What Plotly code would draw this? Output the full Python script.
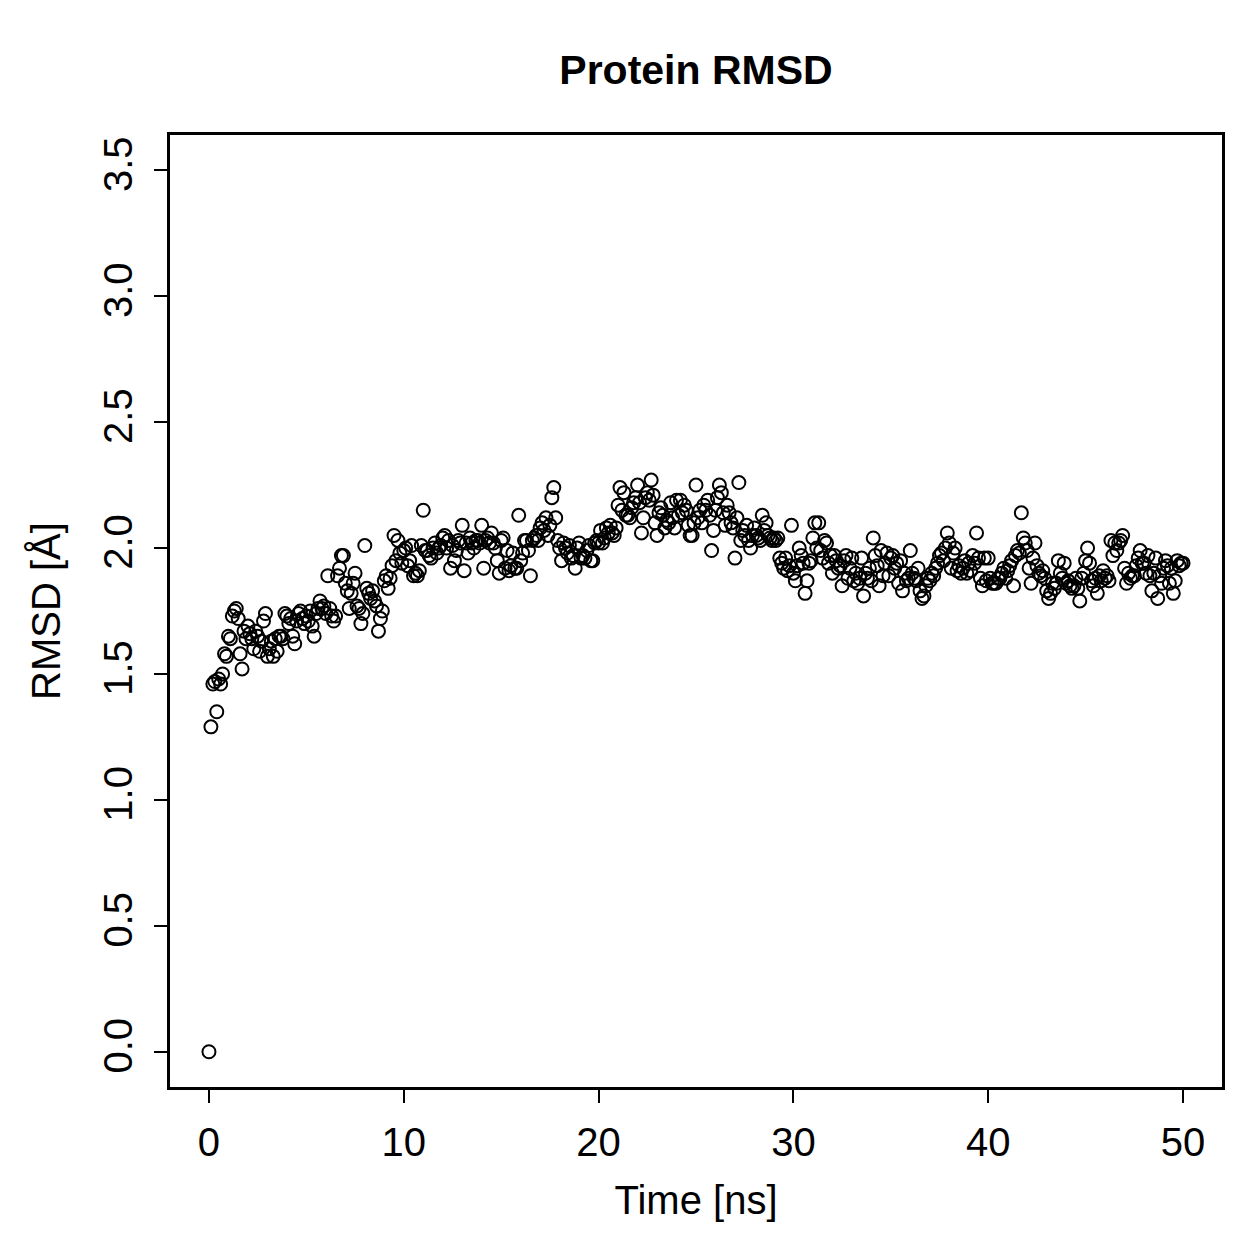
import numpy as np
import plotly.graph_objects as go

# RMSD values, 0.1 ns apart (0..50 ns)
rmsd_0_10 = [
    0.00, 1.29, 1.46, 1.47, 1.35, 1.48, 1.46, 1.50, 1.58, 1.57,
    1.65, 1.64, 1.73, 1.75, 1.76, 1.72, 1.58, 1.52, 1.67, 1.64,
    1.69, 1.66, 1.64, 1.60, 1.67, 1.65, 1.59, 1.63, 1.71, 1.74,
    1.57, 1.60, 1.63, 1.57, 1.64, 1.59, 1.65, 1.65, 1.64, 1.74,
    1.73, 1.70, 1.72, 1.65, 1.62, 1.71, 1.74, 1.75, 1.72, 1.70,
    1.73, 1.71, 1.75, 1.69, 1.65, 1.74, 1.76, 1.79, 1.76, 1.77,
    1.74, 1.89, 1.76, 1.73, 1.71, 1.73, 1.89, 1.92, 1.97, 1.97,
    1.86, 1.83, 1.76, 1.82, 1.86, 1.90, 1.77, 1.76, 1.70, 1.74,
    2.01, 1.84, 1.82, 1.80, 1.83, 1.79, 1.77, 1.67, 1.72, 1.75,
    1.87, 1.89, 1.84, 1.88, 1.93, 2.05, 1.95, 2.03, 1.98, 1.94,
]
rmsd_10_20 = [
    1.99, 2.00, 1.93, 1.95, 2.01, 1.89, 1.90, 1.89, 1.91, 2.01,
    2.15, 1.99, 1.99, 1.97, 1.96, 2.00, 2.02, 1.98, 2.00, 2.01,
    2.04, 2.05, 2.00, 2.03, 1.92, 2.01, 1.95, 1.99, 2.03, 2.02,
    2.09, 1.91, 2.02, 1.98, 2.04, 2.02, 2.00, 2.03, 2.03, 2.02,
    2.09, 1.92, 2.03, 2.04, 2.02, 2.06, 2.02, 2.00, 1.95, 1.90,
    2.03, 2.04, 1.92, 1.99, 1.91, 1.93, 1.98, 1.92, 1.92, 2.13,
    1.95, 1.98, 2.03, 2.03, 1.99, 1.89, 2.03, 2.04, 2.05, 2.03,
    2.08, 2.10, 2.07, 2.12, 2.05, 2.09, 2.20, 2.24, 2.12, 2.03,
    2.00, 1.95, 2.02, 2.00, 1.98, 2.01, 1.96, 1.97, 1.92, 2.00,
    2.02, 1.96, 1.97, 1.96, 1.99, 2.01, 1.95, 1.95, 2.02, 2.03,
]
rmsd_20_30 = [
    2.02, 2.07, 2.02, 2.04, 2.08, 2.06, 2.09, 2.06, 2.05, 2.08,
    2.17, 2.24, 2.15, 2.22, 2.13, 2.13, 2.12, 2.16, 2.18, 2.20,
    2.25, 2.18, 2.06, 2.12, 2.20, 2.22, 2.19, 2.27, 2.21, 2.10,
    2.05, 2.14, 2.16, 2.13, 2.08, 2.11, 2.10, 2.18, 2.12, 2.08,
    2.19, 2.13, 2.19, 2.14, 2.17, 2.15, 2.09, 2.05, 2.05, 2.10,
    2.25, 2.12, 2.15, 2.10, 2.17, 2.15, 2.19, 2.13, 1.99, 2.07,
    2.15, 2.20, 2.25, 2.22, 2.14, 2.09, 2.17, 2.14, 2.10, 2.08,
    1.96, 2.12, 2.26, 2.03, 2.07, 2.05, 2.09, 2.03, 2.00, 2.05,
    2.08, 2.05, 2.04, 2.03, 2.13, 2.07, 2.10, 2.05, 2.04, 2.03,
    2.04, 2.03, 2.04, 1.96, 1.94, 1.92, 1.96, 1.91, 1.93, 2.09,
]
rmsd_30_40 = [
    1.90, 1.87, 1.93, 2.00, 1.97, 1.94, 1.82, 1.87, 1.94, 1.95,
    2.04, 2.10, 2.00, 2.10, 1.99, 1.96, 2.03, 2.02, 1.94, 1.97,
    1.90, 1.97, 1.95, 1.92, 1.93, 1.85, 1.95, 1.97, 1.88, 1.92,
    1.96, 1.87, 1.90, 1.86, 1.88, 1.96, 1.81, 1.90, 1.88, 1.92,
    1.87, 2.04, 1.97, 1.93, 1.85, 1.99, 1.89, 1.94, 1.98, 1.89,
    1.96, 1.97, 1.92, 1.94, 1.86, 1.95, 1.83, 1.90, 1.87, 1.88,
    1.99, 1.90, 1.88, 1.87, 1.92, 1.83, 1.80, 1.81, 1.85, 1.88,
    1.87, 1.90, 1.89, 1.92, 1.94, 1.97, 1.98, 1.95, 2.00, 2.06,
    2.02, 1.92, 1.98, 2.00, 1.91, 1.93, 1.90, 1.92, 1.95, 1.90,
    1.94, 1.91, 1.97, 1.94, 2.06, 1.96, 1.88, 1.85, 1.96, 1.87,
]
rmsd_40_50 = [
    1.96, 1.88, 1.86, 1.86, 1.86, 1.88, 1.88, 1.90, 1.92, 1.88,
    1.91, 1.93, 1.95, 1.85, 1.97, 1.99, 1.98, 2.14, 2.04, 2.02,
    1.99, 1.92, 1.86, 1.96, 2.02, 1.93, 1.90, 1.89, 1.91, 1.88,
    1.83, 1.80, 1.82, 1.86, 1.84, 1.86, 1.95, 1.90, 1.88, 1.94,
    1.86, 1.87, 1.85, 1.84, 1.85, 1.88, 1.84, 1.79, 1.88, 1.90,
    1.95, 2.00, 1.94, 1.87, 1.85, 1.88, 1.82, 1.89, 1.87, 1.91,
    1.88, 1.89, 1.87, 2.03, 1.97, 2.02, 1.99, 2.02, 2.03, 2.05,
    1.92, 1.86, 1.90, 1.88, 1.89, 1.89, 1.93, 1.96, 1.99, 1.94,
    1.94, 1.90, 1.97, 1.89, 1.83, 1.90, 1.96, 1.80, 1.89, 1.86,
    1.92, 1.95, 1.93, 1.86, 1.92, 1.82, 1.87, 1.95, 1.93, 1.94,
    1.94,
]
rmsd = rmsd_0_10 + rmsd_10_20 + rmsd_20_30 + rmsd_30_40 + rmsd_40_50
time_ns = [i / 10 for i in range(len(rmsd))]

x_ticks = [0, 10, 20, 30, 40, 50]
y_ticks = [0.0, 0.5, 1.0, 1.5, 2.0, 2.5, 3.0, 3.5]

FONT = "Liberation Sans, Arial, Helvetica, sans-serif"
LABEL_SIZE = 40

fig = go.Figure(go.Scatter(
    x=time_ns, y=rmsd, mode="markers",
    marker=dict(symbol="circle-open", size=13, color="black",
                line=dict(width=2, color="black")),
    showlegend=False,
))

axis_common = dict(
    showgrid=False, zeroline=False, showline=True, mirror=True,
    linecolor="black", linewidth=2.5, ticks="outside", ticklen=13,
    tickwidth=2, tickcolor="black",
    tickfont=dict(family=FONT, size=LABEL_SIZE, color="black"),
)

fig.update_layout(
    width=1259, height=1259,
    paper_bgcolor="white", plot_bgcolor="white",
    margin=dict(l=170, r=37, t=135, b=172),
    title=dict(text="<b>Protein RMSD</b>", x=(170 + 1222) / 2 / 1259, xanchor="center",
               y=1 - 70 / 1259, yanchor="middle",
               font=dict(family=FONT, size=41, color="black")),
    xaxis=dict(range=[-2, 52], tickvals=x_ticks, ticktext=[str(v) for v in x_ticks],
               title=dict(text="Time [ns]", font=dict(family=FONT, size=LABEL_SIZE, color="black"),
                          standoff=24),
               ticklabelstandoff=5, **axis_common),
    yaxis=dict(range=[-0.14, 3.64], tickvals=y_ticks, ticktext=[f"{v:.1f}" for v in y_ticks],
               tickangle=-90,
               title=dict(text="RMSD [Å]", font=dict(family=FONT, size=LABEL_SIZE, color="black"),
                          standoff=24),
               ticklabelstandoff=6, **axis_common),
)

fig.write_html("out.html")
